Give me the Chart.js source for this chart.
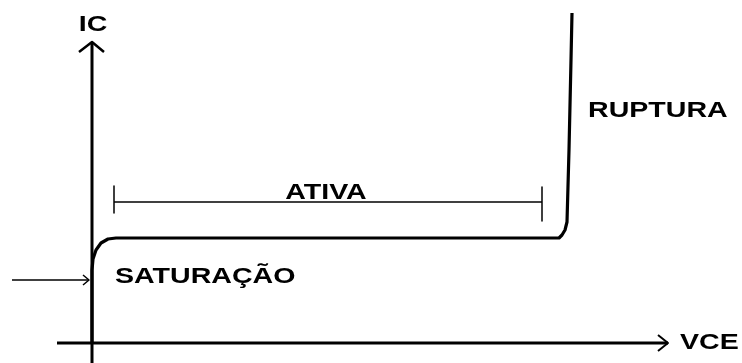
<!DOCTYPE html>
<html>
<head>
<meta charset="utf-8">
<title>IC x VCE</title>
<script src="https://cdn.jsdelivr.net/npm/chart.js@4/dist/chart.umd.min.js"></script>
<style>
  html,body{margin:0;padding:0;background:#fff;}
  #wrap{width:742px;height:363px;}
</style>
</head>
<body>
<div id="wrap"><canvas id="chart" width="742" height="363"></canvas></div>
<script>
// ===== Data (VCE em V, IC em mA - esquemático) =====
const curveVce = [0, 0, 0.05, 0.2, 0.45, 0.8, 1.2, 23.35, 23.5, 23.65, 23.75, 23.85, 23.95, 24.0];
const curveIc  = [0, 7.3, 8.4, 9.3, 10.0, 10.4, 10.5, 10.5, 10.8, 11.3, 12.1, 19.3, 28.3, 33.0];

const axisYVce = [0, 0];        const axisYIc = [-2, 30.1];
const arrowYVce = [-0.65, 0, 0.6]; const arrowYIc = [29.1, 30.1, 29.1];
const axisXVce = [-1.75, 28.8];  const axisXIc = [0, 0];
const arrowXVce = [28.3, 28.8, 28.3]; const arrowXIc = [0.8, 0, -0.8];

const satVce = [-4, -0.15];      const satIc = [6.3, 6.3];
const satHeadVce = [-0.45, -0.15, -0.45]; const satHeadIc = [6.8, 6.3, 5.8];

const ativaVce = [1.1, 22.5];    const ativaIc = [14.1, 14.1];
const tickLVce = [1.1, 1.1];     const tickLIc = [15.7, 13.0];
const tickRVce = [22.5, 22.5];   const tickRIc = [15.6, 12.2];

const labelText = ['IC', 'VCE', 'ATIVA', 'RUPTURA', 'SATURAÇÃO'];
const labelVce  = [0.05, 29.4, 11.7, 24.8, 1.15];
const labelIc   = [32.0, 0.2, 15.25, 23.4, 6.8];
const labelAlign= ['center', 'left', 'center', 'left', 'left'];

// ===== Helpers =====
const pts = (xs, ys)=>xs.map((x,i)=>({x, y:ys[i]}));
function seg(xs, ys, w){
  return { data:pts(xs,ys), showLine:true, borderColor:'#000', borderWidth:w,
           pointRadius:0, tension:0, borderCapStyle:'butt', borderJoinStyle:'round' };
}

// ===== Text plugin =====
const labelsPlugin = {
  id:'labels',
  afterDatasetsDraw(chart){
    const {ctx, scales:{x, y}} = chart;
    const size = 22.5, sx = 1.27;
    ctx.save();
    ctx.fillStyle = '#000';
    ctx.font = `bold ${size}px "Liberation Sans", Arial, sans-serif`;
    ctx.textBaseline = 'alphabetic';
    labelText.forEach((t,i)=>{
      const px = x.getPixelForValue(labelVce[i]);
      const py = y.getPixelForValue(labelIc[i]) + size*0.36;
      const w = ctx.measureText(t).width*sx;
      const left = labelAlign[i]==='center' ? px - w/2 : px;
      ctx.save();
      ctx.translate(left, py);
      ctx.scale(sx, 1);
      ctx.textAlign = 'left';
      ctx.fillText(t, 0, 0);
      ctx.restore();
    });
    ctx.restore();
  }
};

// ===== Chart =====
new Chart(document.getElementById('chart'), {
  type:'scatter',
  data:{
    datasets:[
      seg(axisYVce, axisYIc, 3),
      seg(arrowYVce, arrowYIc, 2.5),
      seg(axisXVce, axisXIc, 3),
      seg(arrowXVce, arrowXIc, 2),
      seg(satVce, satIc, 1.5),
      seg(satHeadVce, satHeadIc, 1.5),
      seg(ativaVce, ativaIc, 1.5),
      seg(tickLVce, tickLIc, 1.5),
      seg(tickRVce, tickRIc, 1.5),
      seg(curveVce, curveIc, 3.2)
    ]
  },
  options:{
    responsive:false, animation:false,
    layout:{padding:0},
    plugins:{legend:{display:false}, tooltip:{enabled:false}},
    scales:{
      x:{type:'linear', min:-4.6, max:32.5, display:false},
      y:{type:'linear', min:-2, max:34.3, display:false}
    }
  },
  plugins:[labelsPlugin]
});
</script>
</body>
</html>
